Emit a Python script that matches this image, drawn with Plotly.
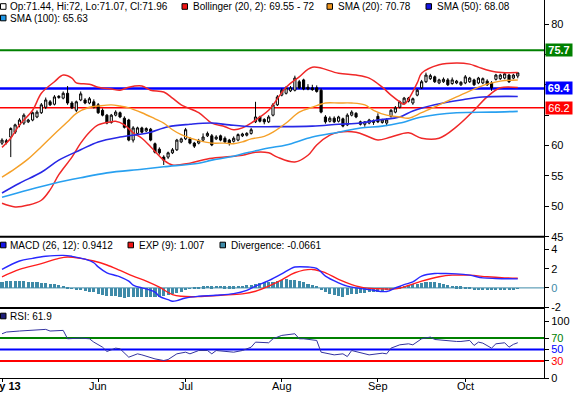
import plotly.graph_objects as go

# ---------------- data (trading-day index 0 = 1 May 2013 ... 118 = 17 Oct 2013) ----------------
day = list(range(119))

opens = [60.4, 60.5, 61.4, 62.2, 63.4, 63.7, 63.9, 64.2, 64.7, 65.4,
         66.3, 67.2, 66.8, 67.9, 67.8, 68.6, 67.0, 65.8, 67.5, 67.5,
         67.0, 67.2, 66.7, 65.8, 65.0, 63.8, 65.0, 65.4, 64.5, 64.2,
         60.9, 62.0, 62.9, 62.4, 62.7, 60.3, 59.4, 58.1, 58.1, 58.8,
         59.3, 60.6, 61.1, 61.1, 60.4, 60.4, 60.9, 61.6, 61.6, 61.1,
         61.6, 61.2, 60.9, 60.7, 60.9, 61.6, 61.7, 62.0, 63.9, 64.7,
         64.3, 63.9, 65.0, 66.7, 68.3, 68.6, 69.0, 69.1, 70.5, 70.8,
         69.6, 69.5, 69.5, 69.1, 64.7, 64.0, 64.5, 64.0, 64.4, 63.4,
         65.0, 65.3, 63.9, 63.5, 63.7, 63.8, 64.8, 63.8, 63.7, 64.8,
         65.5, 66.3, 67.0, 67.3, 67.0, 68.3, 69.5, 70.5, 71.0, 71.3,
         70.3, 70.5, 70.8, 70.2, 70.3, 70.0, 70.3, 70.5, 70.8, 70.3,
         70.3, 70.6, 70.3, 70.9, 71.0, 71.1, 71.6, 71.1, 71.44]
highs = [61.2, 61.1, 63.0, 63.6, 64.5, 65.3, 64.4, 65.6, 65.8, 67.0,
         67.9, 67.5, 68.3, 68.3, 68.9, 69.8, 67.3, 67.4, 68.9, 67.8,
         68.0, 67.6, 67.0, 66.1, 65.2, 65.2, 65.8, 65.6, 64.8, 64.4,
         63.2, 63.1, 63.1, 63.0, 62.9, 60.5, 59.7, 58.4, 59.0, 59.6,
         61.1, 61.3, 62.9, 61.4, 60.6, 61.1, 62.0, 62.3, 61.9, 61.7,
         61.8, 61.5, 61.1, 61.5, 62.0, 62.1, 62.2, 62.9, 67.2, 64.9,
         64.5, 65.0, 67.0, 68.3, 69.4, 69.8, 69.8, 71.5, 70.8, 71.0,
         70.1, 70.0, 69.9, 69.4, 65.0, 64.8, 64.8, 64.9, 64.6, 65.3,
         65.8, 65.5, 64.1, 64.0, 64.4, 64.3, 65.3, 64.4, 64.5, 66.0,
         66.5, 67.4, 68.0, 68.0, 67.9, 69.3, 70.8, 72.0, 71.8, 71.5,
         71.0, 71.2, 71.1, 71.2, 70.8, 70.6, 71.6, 71.3, 71.0, 71.3,
         71.2, 70.9, 70.6, 71.8, 71.8, 72.0, 71.8, 71.8, 72.0]
lows = [60.1, 60.2, 58.1, 61.9, 63.0, 63.4, 63.7, 64.0, 64.5, 65.2,
        66.0, 66.5, 66.6, 67.7, 67.6, 66.7, 66.0, 65.5, 67.3, 66.8,
        66.8, 66.1, 65.2, 64.8, 63.5, 63.6, 64.8, 64.5, 62.8, 60.7,
        60.5, 61.8, 62.0, 62.2, 60.7, 58.7, 58.5, 56.8, 57.8, 58.6,
        59.1, 60.4, 60.9, 60.2, 59.6, 60.2, 60.7, 61.4, 59.9, 60.9,
        60.7, 60.4, 60.0, 60.5, 60.7, 61.4, 61.5, 61.8, 63.7, 63.8,
        63.5, 63.7, 64.8, 66.5, 68.1, 68.4, 68.8, 68.9, 69.3, 69.1,
        69.1, 69.0, 68.7, 65.3, 63.6, 63.8, 63.7, 63.8, 63.0, 63.2,
        64.8, 64.5, 63.3, 63.1, 63.5, 63.4, 63.7, 63.6, 63.2, 64.6,
        65.3, 66.1, 66.8, 67.1, 66.7, 68.1, 69.3, 70.3, 70.8, 70.3,
        70.1, 70.3, 69.8, 70.0, 70.1, 69.8, 70.1, 70.3, 69.8, 70.1,
        70.1, 69.8, 69.0, 70.7, 70.8, 70.9, 70.3, 70.9, 71.07]
closes = [60.9, 60.8, 62.8, 63.4, 64.2, 65.0, 64.2, 65.4, 65.5, 66.7,
          67.5, 66.7, 68.0, 68.1, 68.6, 67.0, 66.2, 67.2, 68.5, 67.0,
          67.7, 66.3, 65.4, 65.0, 63.7, 65.0, 65.5, 64.7, 63.0, 60.9,
          62.9, 62.9, 62.2, 62.8, 60.9, 58.9, 58.8, 57.6, 58.8, 59.3,
          60.9, 61.1, 62.6, 60.4, 59.9, 60.8, 61.4, 62.0, 60.1, 61.4,
          60.9, 60.6, 60.4, 61.2, 61.8, 61.9, 62.0, 62.6, 64.7, 64.0,
          63.9, 64.7, 66.7, 68.0, 69.1, 69.5, 69.5, 71.1, 69.5, 69.3,
          69.3, 69.2, 68.9, 65.5, 63.9, 64.5, 63.9, 64.7, 63.2, 65.0,
          65.5, 64.7, 63.5, 63.9, 64.2, 64.1, 63.9, 64.2, 64.2, 65.8,
          66.2, 67.2, 67.8, 67.8, 67.7, 69.1, 70.5, 71.6, 71.5, 70.5,
          70.8, 70.9, 70.0, 70.8, 70.6, 70.4, 71.3, 71.1, 70.0, 71.1,
          71.0, 70.0, 69.5, 71.6, 71.6, 71.8, 70.5, 71.6, 71.96]

bb_up_day = [0, 2, 4, 7, 9, 12, 14, 16, 17, 20, 22, 25, 27, 29, 32, 34, 37, 39, 41, 45, 48, 51, 53,
             55, 57, 59, 61, 65, 68, 71, 77, 81, 84, 87, 89, 91, 92, 95, 96, 100, 104, 107, 109, 113, 118]
bb_up = [59.7, 61.2, 63.4, 65.8, 68.6, 70.5, 71.6, 71.1, 70.3, 70.1, 69.6, 69.3, 69.1, 69.6, 69.8,
         69.1, 68.8, 67.8, 66.7, 65.4, 63.7, 63.1, 62.6, 62.9, 63.7, 64.7, 65.8, 69.6, 71.3, 72.9,
         71.9, 71.6, 71.1, 69.6, 68.3, 67.2, 66.8, 70.3, 71.9, 73.3, 73.6, 73.4, 72.9, 72.1, 72.0]
bb_lo_day = [0, 3, 6, 9, 11, 13, 16, 18, 20, 22, 25, 26, 28, 30, 32, 34, 37, 39, 43, 47, 51, 55,
             58, 61, 63, 67, 70, 72, 75, 77, 81, 84, 86, 89, 93, 96, 100, 104, 108, 111, 114, 118]
bb_lo = [50.5, 49.9, 50.2, 51.0, 52.7, 55.2, 58.1, 60.4, 62.2, 63.4, 63.9, 64.0, 63.4, 62.1, 61.2,
         59.8, 57.6, 56.8, 57.1, 57.8, 58.1, 58.4, 58.9, 58.8, 58.1, 57.3, 58.4, 60.1, 61.7, 62.2,
         62.2, 61.4, 60.9, 61.4, 62.1, 61.2, 61.2, 63.1, 65.8, 68.0, 69.5, 69.55]

sma20_day = [0, 3, 6, 9, 12, 15, 17, 20, 22, 25, 27, 29, 32, 35, 37, 39, 41, 45, 48, 51, 53, 55, 57,
             60, 62, 65, 68, 71, 74, 77, 80, 83, 85, 88, 91, 93, 96, 100, 104, 108, 111, 114, 118]
sma20 = [54.8, 56.2, 57.8, 59.8, 61.9, 63.9, 65.3, 66.3, 66.5, 66.7, 66.5, 66.2, 65.4, 64.4, 63.7,
         62.6, 61.8, 60.8, 60.4, 60.4, 60.3, 60.6, 61.1, 61.5, 62.2, 63.7, 65.5, 66.3, 67.0, 67.0,
         67.0, 66.7, 65.8, 65.0, 64.7, 64.5, 65.4, 66.7, 68.0, 69.3, 70.1, 70.6, 70.78]

sma50_day = [0, 4, 9, 13, 18, 22, 27, 32, 34, 38, 43, 48, 52, 57, 61, 71, 77, 82, 86, 91, 94, 99,
             105, 110, 118]
sma50 = [52.2, 53.8, 55.6, 57.6, 59.3, 60.6, 61.4, 61.9, 62.2, 63.1, 63.5, 63.7, 63.4, 63.1, 63.1,
         63.2, 63.5, 63.7, 64.2, 64.7, 65.7, 66.7, 67.5, 68.0, 68.08]

sma100_day = [0, 6, 12, 18, 24, 32, 37, 45, 48, 52, 56, 61, 65, 71, 77, 82, 87, 91, 96, 104, 112, 118]
sma100 = [51.5, 52.7, 53.8, 54.7, 55.5, 56.1, 56.5, 57.1, 57.6, 58.1, 58.8, 59.6, 60.1, 61.4, 62.2,
          62.9, 63.2, 63.7, 64.7, 65.4, 65.5, 65.63]

macd_day = [0, 4, 7, 10, 14, 16, 19, 21, 22, 24, 26, 27, 29, 30, 32, 33, 35, 36, 38, 39, 40, 42, 45,
            49, 53, 56, 58, 61, 64, 66, 67, 70, 72, 74, 77, 79, 81, 84, 88, 90, 92, 94, 96, 99, 101,
            104, 107, 110, 113, 118]
macd = [1.93, 2.81, 3.09, 3.30, 3.40, 3.30, 3.00, 2.63, 2.20, 1.58, 1.30, 1.16, 0.70, 0.30, 0.0,
        -0.10, -0.45, -0.88, -1.23, -1.40, -1.33, -1.05, -0.88, -0.77, -0.60, -0.25, 0.18, 0.75,
        1.47, 2.00, 2.18, 2.18, 2.04, 1.23, 0.53, 0.18, 0.0, -0.18, -0.38, 0.0, 0.35, 0.63, 1.23,
        1.50, 1.50, 1.47, 1.33, 1.05, 0.98, 0.9412]

exp_day = [0, 4, 9, 13, 15, 18, 21, 24, 27, 30, 33, 36, 39, 41, 45, 50, 55, 58, 61, 64, 67, 71, 74,
           77, 80, 83, 87, 90, 93, 96, 100, 103, 107, 111, 115, 118]
exp9 = [1.16, 1.93, 2.53, 3.09, 3.23, 3.09, 2.81, 2.39, 1.82, 1.23, 0.70, 0.07, -0.70, -0.88, -0.91,
        -0.77, -0.63, -0.35, 0.18, 0.85, 1.58, 1.93, 1.58, 0.88, 0.35, 0.0, -0.10, -0.10, 0.25, 0.70,
        1.16, 1.33, 1.33, 1.16, 1.05, 1.007]

divergence = [0.70, 0.75, 0.80, 0.80, 0.80, 0.80, 0.67, 0.67, 0.60, 0.53,
              0.53, 0.46, 0.46, 0.35, 0.25, 0.14, 0.02, -0.14, -0.20, -0.28,
              -0.35, -0.42, -0.56, -0.70, -0.77, -0.84, -0.84, -0.90, -0.98, -0.90,
              -0.90, -0.88, -0.88, -0.88, -0.90, -0.90, -0.90, -0.77, -0.70, -0.60,
              -0.46, -0.35, -0.10, -0.02, 0.03, 0.10, 0.18, 0.25, 0.20, 0.25,
              0.25, 0.18, 0.18, 0.18, 0.28, 0.28, 0.32, 0.35, 0.42, 0.53,
              0.60, 0.60, 0.64, 0.76, 0.88, 0.95, 0.90, 0.88, 0.77, 0.60,
              0.42, 0.35, 0.25, -0.10, -0.35, -0.60, -0.70, -0.77, -0.88, -0.70,
              -0.60, -0.60, -0.50, -0.50, -0.42, -0.42, -0.35, -0.28, -0.18, -0.10,
              -0.07, 0.20, 0.28, 0.35, 0.42, 0.46, 0.53, 0.63, 0.70, 0.63,
              0.53, 0.46, 0.35, 0.28, 0.20, 0.18, 0.14, 0.03, -0.10, -0.10,
              -0.14, -0.20, -0.14, -0.20, -0.14, -0.10, -0.10, -0.10, -0.066]

rsi_day = [0, 1, 4, 7, 10, 11, 13, 14, 15, 18, 20, 21, 23, 24, 26, 27, 29, 31, 32, 35, 37, 38, 40,
           42, 43, 45, 47, 48, 49, 52, 53, 55, 57, 58, 61, 62, 64, 67, 68, 69, 72, 73, 76, 78, 79,
           80, 83, 84, 87, 88, 89, 91, 93, 94, 96, 98, 99, 101, 104, 105, 107, 108, 109, 110, 111,
           112, 113, 115, 116, 117, 118]
rsi = [77.6, 80.6, 82.4, 83.5, 85.3, 82.4, 83.5, 83.5, 68.8, 70.0, 68.8, 62.9, 54.1, 46.5, 52.4,
       51.2, 36.5, 42.4, 40.6, 33.5, 30.6, 32.4, 42.4, 45.3, 42.4, 48.2, 48.2, 42.4, 48.2, 46.5,
       45.3, 48.2, 54.1, 62.9, 61.8, 68.8, 74.7, 77.6, 68.8, 68.8, 65.9, 45.3, 40.6, 42.4, 37.6,
       48.2, 42.4, 40.6, 43.5, 42.4, 52.4, 58.2, 60.0, 58.2, 68.8, 71.8, 67.6, 65.9, 64.1, 64.1,
       65.9, 57.1, 62.9, 61.2, 57.0, 52.4, 60.0, 61.8, 54.1, 59.0, 61.9]

month_day = [0, 22, 42, 64, 86, 106]
month_text = ["<b>May 13</b>", "Jun", "Jul", "Aug", "Sep", "Oct"]

level_values = [75.7, 69.4, 66.2]
level_colors = ["#008000", "#0000ff", "#ff0000"]
level_widths = [2, 2.5, 1.5]
level_text = ["<b>75.7</b>", "<b>69.4</b>", "66.2"]

rsi_levels = [70, 50, 30]
rsi_level_colors = ["#008000", "#0000ff", "#ff0000"]

C_BB = "rgb(240,40,40)"
C_SMA20 = "rgb(245,160,40)"
C_SMA50 = "rgb(40,40,230)"
C_SMA100 = "rgb(40,160,240)"
C_MACD = "rgb(40,40,255)"
C_EXP = "rgb(255,30,30)"
C_DIV = "rgb(62,138,168)"
C_RSI = "rgb(50,50,160)"

# ---------------- geometry ----------------
W, H = 573, 393
ML, MR, MT, MB = 0, 29, 0, 15
PW, PH = W - ML - MR, H - MT - MB


def pxx(x):
    return x / PW


def pyy(y):
    return (PH - y) / PH


P1 = 236.7   # bottom of price panel (pixels from top)
P2 = 308.0   # bottom of MACD panel
FONT = "Arial, Liberation Sans, sans-serif"

fig = go.Figure()

# price panel
fig.add_trace(go.Scatter(x=bb_up_day, y=bb_up, mode="lines", line=dict(color=C_BB, width=1.5, shape="spline"),
                         xaxis="x", yaxis="y"))
fig.add_trace(go.Scatter(x=bb_lo_day, y=bb_lo, mode="lines", line=dict(color=C_BB, width=1.5, shape="spline"),
                         xaxis="x", yaxis="y"))
fig.add_trace(go.Scatter(x=sma100_day, y=sma100, mode="lines",
                         line=dict(color=C_SMA100, width=1.6, shape="spline"), xaxis="x", yaxis="y"))
fig.add_trace(go.Scatter(x=sma50_day, y=sma50, mode="lines",
                         line=dict(color=C_SMA50, width=1.6, shape="spline"), xaxis="x", yaxis="y"))
fig.add_trace(go.Scatter(x=sma20_day, y=sma20, mode="lines",
                         line=dict(color=C_SMA20, width=1.4, shape="spline"), xaxis="x", yaxis="y"))
fig.add_trace(go.Candlestick(x=day, open=opens, high=highs, low=lows, close=closes,
                             increasing=dict(line=dict(color="black", width=1), fillcolor="white"),
                             decreasing=dict(line=dict(color="black", width=1), fillcolor="black"),
                             whiskerwidth=0, xaxis="x", yaxis="y"))

# MACD panel
fig.add_trace(go.Bar(x=day, y=divergence, marker=dict(color=C_DIV, line=dict(width=0)), width=0.7,
                     xaxis="x", yaxis="y2"))
fig.add_trace(go.Scatter(x=exp_day, y=exp9, mode="lines", line=dict(color=C_EXP, width=1.4, shape="spline"),
                         xaxis="x", yaxis="y2"))
fig.add_trace(go.Scatter(x=macd_day, y=macd, mode="lines", line=dict(color=C_MACD, width=1.4, shape="spline"),
                         xaxis="x", yaxis="y2"))

# RSI panel
fig.add_trace(go.Scatter(x=rsi_day, y=rsi, mode="lines", line=dict(color=C_RSI, width=1),
                         xaxis="x", yaxis="y3"))

shapes = []
for v, c, w in zip(level_values, level_colors, level_widths):
    shapes.append(dict(type="line", xref="paper", yref="y", x0=0, x1=1, y0=v, y1=v,
                       line=dict(color=c, width=w), layer="below"))
shapes.append(dict(type="line", xref="paper", yref="y2", x0=0, x1=1, y0=0, y1=0,
                   line=dict(color=C_DIV, width=1), layer="below"))
for v, c in zip(rsi_levels, rsi_level_colors):
    shapes.append(dict(type="line", xref="paper", yref="y3", x0=0, x1=1, y0=v, y1=v,
                       line=dict(color=c, width=2), layer="below"))
for yb in (P1, P2):
    shapes.append(dict(type="line", xref="paper", yref="paper", x0=0, x1=1, y0=pyy(yb), y1=pyy(yb),
                       line=dict(color="black", width=2)))

annotations = []
for v, c, t in zip(level_values, level_colors, level_text):
    annotations.append(dict(x=1, xref="paper", y=v, yref="y", xanchor="left", yanchor="middle",
                            xshift=1, text=t, showarrow=False, bgcolor=c, width=26, height=12,
                            borderpad=0, font=dict(family=FONT, size=11, color="white")))

# month labels under the ticks (first one runs off the left edge, as in the original)
for d, t in zip(month_day, month_text):
    annotations.append(dict(x=d, xref="x", y=pyy(386), yref="paper", xanchor="center",
                            yanchor="middle", text=t, showarrow=False,
                            font=dict(family=FONT, size=11, color="black")))

# legends
legend_items = [
    (0.5, 6.5, "white", 8, "Op:71.44, Hi:72, Lo:71.07, Cl:71.96"),
    (182, 6.5, "rgb(240,20,20)", 191, "Bollinger (20, 2): 69.55 - 72"),
    (327, 6.5, "rgb(240,150,30)", 336, "SMA (20): 70.78"),
    (426, 6.5, "rgb(20,20,230)", 435, "SMA (50): 68.08"),
    (0.5, 18, "rgb(30,150,230)", 8, "SMA (100): 65.63"),
    (0.5, 245, "rgb(20,20,230)", 8, "MACD (26, 12): 0.9412"),
    (128, 245, "rgb(240,20,20)", 137, "EXP (9): 1.007"),
    (220, 245, C_DIV, 229, "Divergence: -0.0661"),
    (0.5, 316, "rgb(30,30,120)", 8, "RSI: 61.9"),
]
for sx, sy, col, tx, label in legend_items:
    shapes.append(dict(type="rect", xref="paper", yref="paper",
                       x0=pxx(sx), x1=pxx(sx + 5.5), y0=pyy(sy + 2.8), y1=pyy(sy - 2.8),
                       fillcolor=col, line=dict(color="black", width=1)))
    annotations.append(dict(x=pxx(tx), xref="paper", y=pyy(sy), yref="paper", xanchor="left",
                            yanchor="middle", text=label, showarrow=False,
                            font=dict(family=FONT, size=10, color="black")))

axis_common = dict(side="right", anchor="x", showline=True, linecolor="black", linewidth=1,
                   ticks="outside", ticklen=4, tickcolor="black", showgrid=False, zeroline=False,
                   tickfont=dict(family=FONT, size=11, color="black"), fixedrange=True,
                   automargin=False)

fig.update_layout(
    width=W, height=H, margin=dict(l=ML, r=MR, t=MT, b=MB, autoexpand=False),
    paper_bgcolor="white", plot_bgcolor="white", showlegend=False, bargap=0,
    xaxis=dict(domain=[0, 1], range=[-0.46, 124.0], anchor="y3", tickmode="array",
               tickvals=month_day, ticktext=[""] * len(month_day), ticks="outside", ticklen=3,
               tickcolor="black", showline=True, linecolor="black", linewidth=1, showgrid=False,
               zeroline=False, automargin=False,
               rangeslider=dict(visible=False), tickfont=dict(family=FONT, size=11, color="black")),
    yaxis=dict(domain=[pyy(P1), 1], range=[45, 83.95], tickmode="array",
               tickvals=[45, 50, 55, 60, 65, 70, 75, 80],
               ticktext=["45", "50", "55", "60", "", "", "", "80"], **axis_common),
    yaxis2=dict(domain=[pyy(P2), pyy(P1)], range=[-2.1, 5.35], tickmode="array",
                tickvals=[-2, 0, 2, 4],
                ticktext=["-2", "<span style='color:rgb(62,138,168)'>0</span>", "2", "4"], **axis_common),
    yaxis3=dict(domain=[0, pyy(P2)], range=[0, 122.8], tickmode="array",
                tickvals=[0, 30, 50, 70, 100],
                ticktext=["0", "<span style='color:#ff0000'>30</span>",
                          "<span style='color:#0000ff'>50</span>",
                          "<span style='color:#008000'>70</span>", "100"], **axis_common),
    shapes=shapes, annotations=annotations,
)

fig.write_html("out.html", config={"displayModeBar": False},
               post_script="document.body.style.margin='0';document.body.style.overflow='hidden';")
